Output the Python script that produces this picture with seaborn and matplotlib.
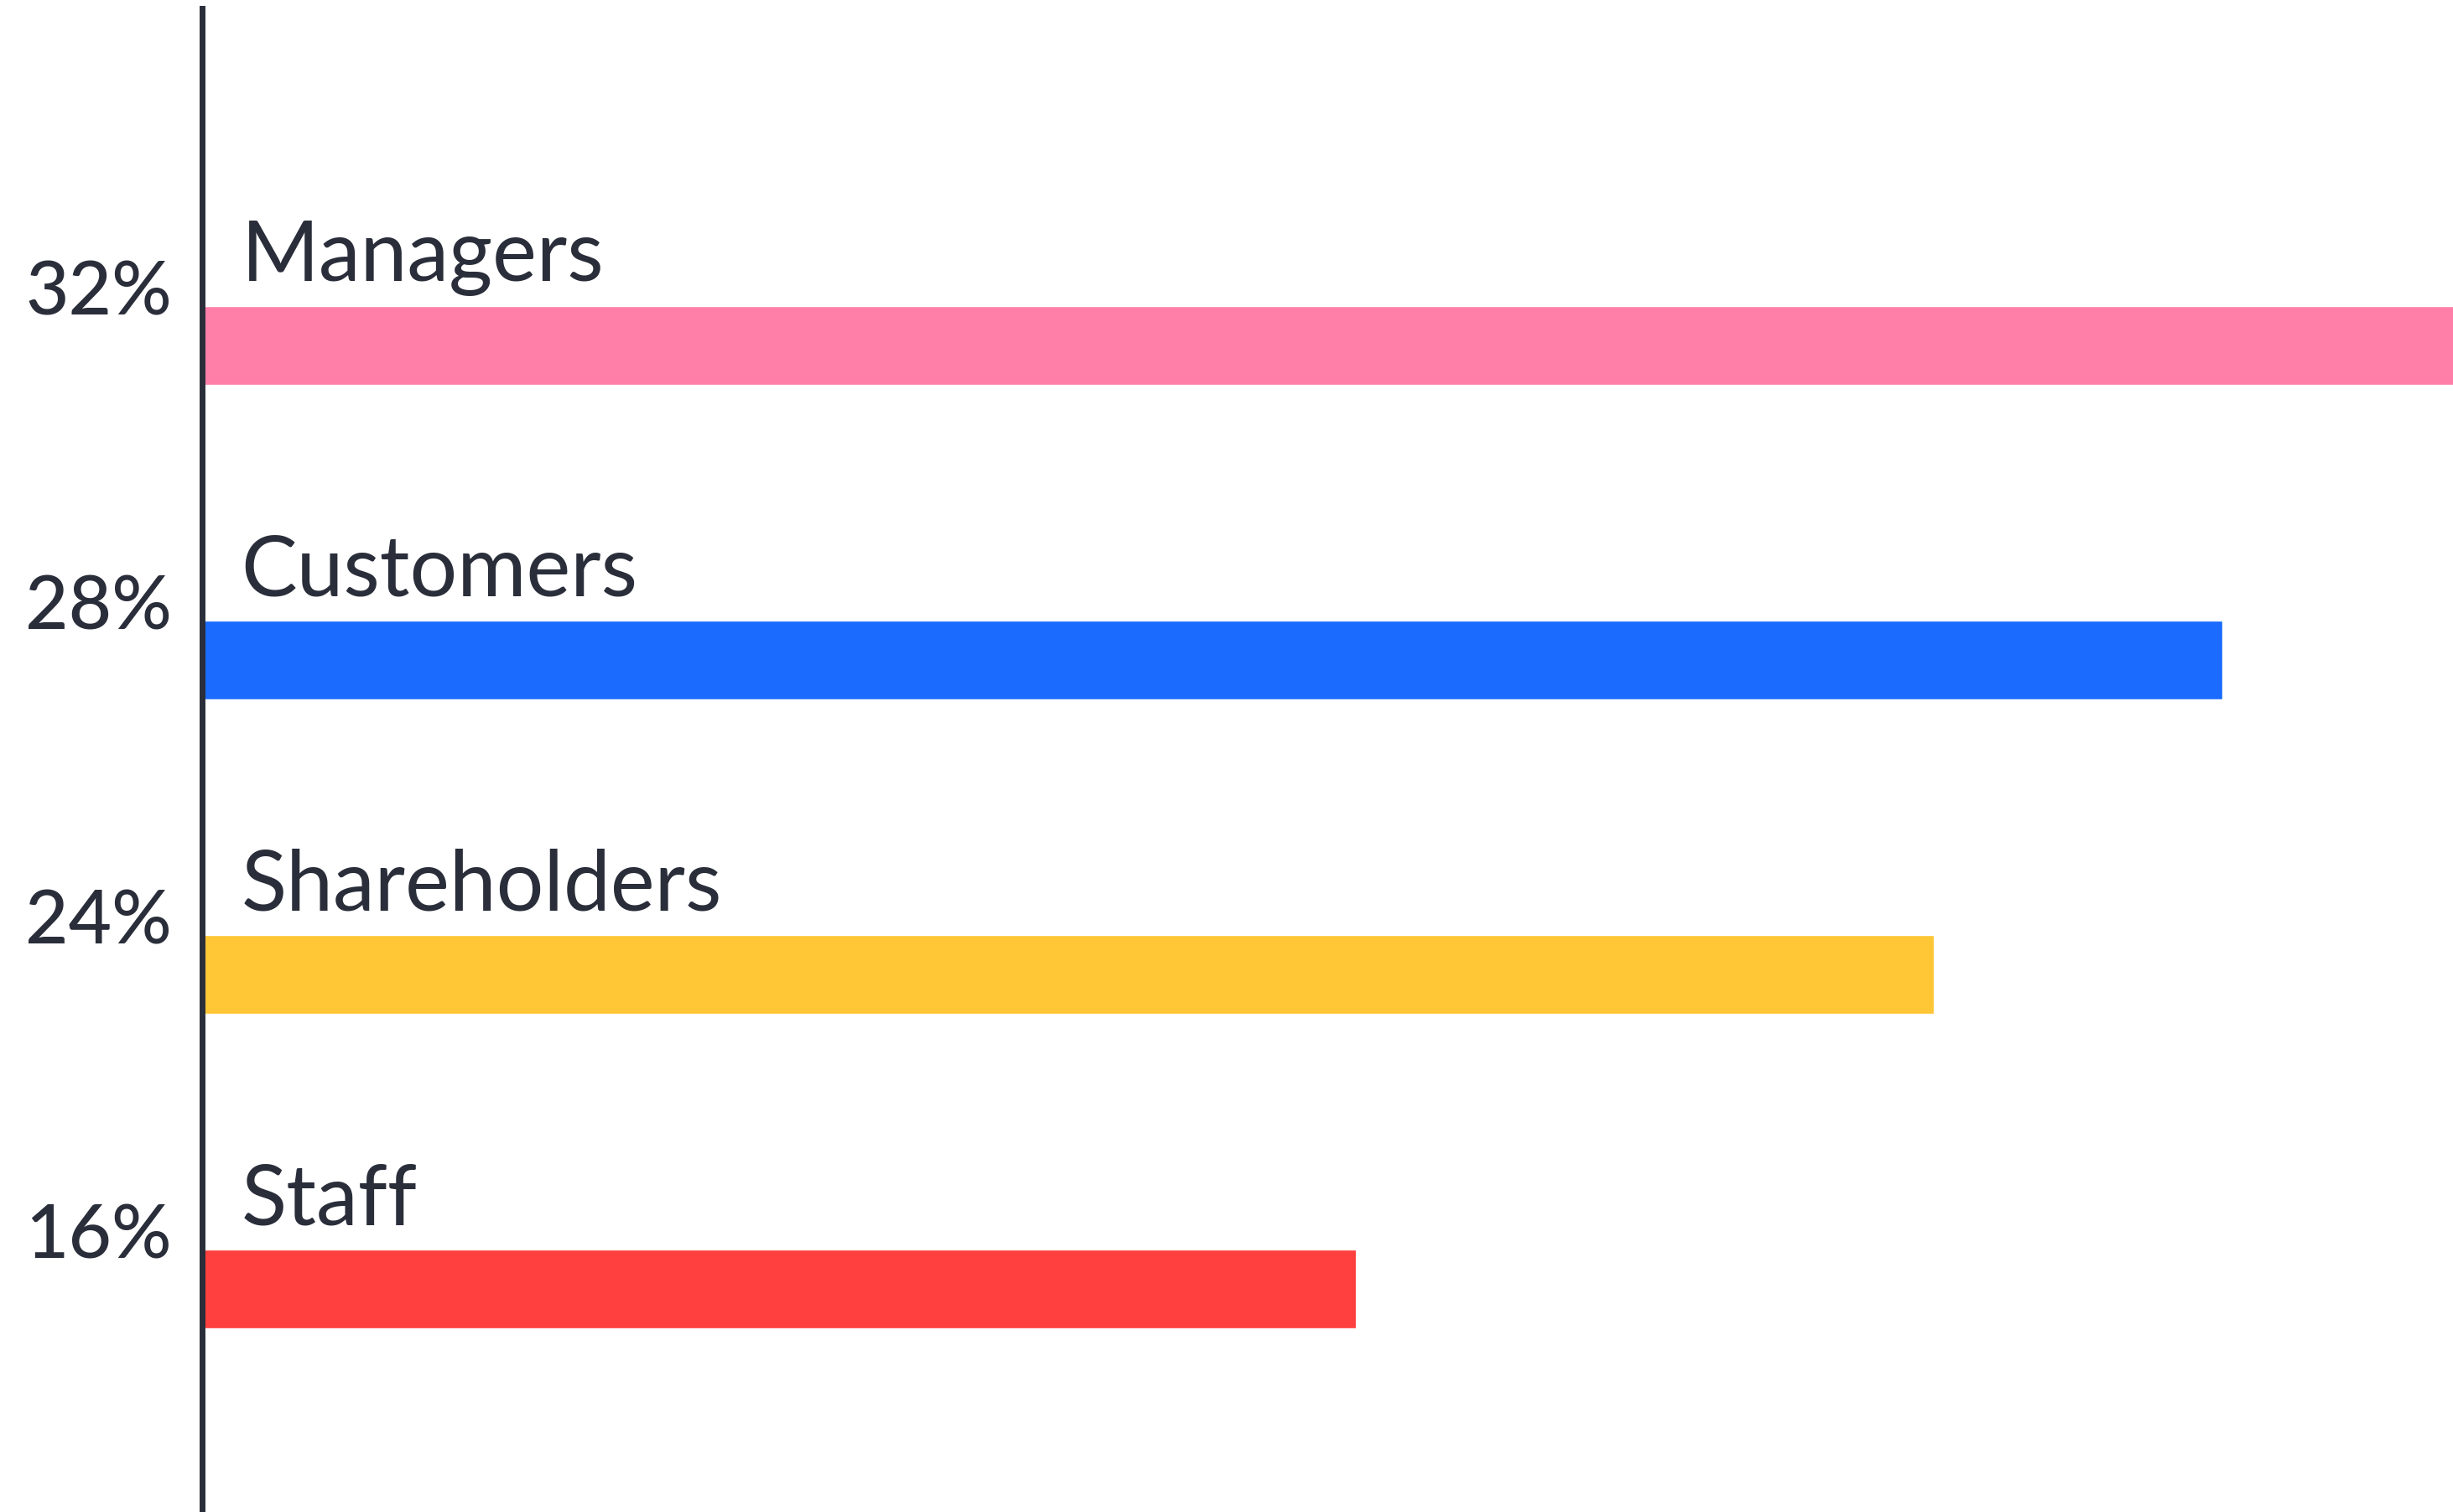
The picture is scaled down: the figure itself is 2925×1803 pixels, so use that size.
import matplotlib
matplotlib.use("Agg")
import matplotlib.pyplot as plt
import seaborn as sns
import pandas as pd

# Data
categories = ["Managers", "Customers", "Shareholders", "Staff"]
shares = [32, 28, 24, 16]
colors = ["#FF7FA8", "#1B6BFF", "#FFC636", "#FF403E"]

df = pd.DataFrame({"group": categories, "share": shares})

sns.set_theme(style="white")
plt.rcParams["font.family"] = ["Lato", "DejaVu Sans"]
text_color = "#2A2E3A"

fig = plt.figure(figsize=(29.25, 18.03), dpi=100)
ax = fig.add_axes([241 / 2925, 0.0, 1 - 241 / 2925, 1 - 10 / 1803])

sns.barplot(data=df, x="share", y="group", hue="group", palette=colors,
            order=categories, hue_order=categories, width=0.25,
            orient="h", legend=False, saturation=1, ax=ax)

ax.set_xlim(0, 31.2)
ax.set_ylim(3.709, -1.072)

# category names above the bars, percentages left of the axis
for i, (name, val) in enumerate(zip(categories, shares)):
    ax.text(0.54, i - 0.205, name, fontsize=72, color=text_color,
            ha="left", va="baseline")
    ax.text(-0.0135, i - 0.163, f"{val}%", fontsize=64, color=text_color,
            ha="right", va="center", fontweight="medium",
            transform=ax.get_yaxis_transform())

sns.despine(ax=ax, top=True, right=True, bottom=True, left=False)
ax.spines["left"].set_color(text_color)
ax.spines["left"].set_linewidth(5)
ax.set_xticks([])
ax.set_yticks([])
ax.set_xlabel("")
ax.set_ylabel("")

fig.savefig("out.png", dpi=100, facecolor="white")
